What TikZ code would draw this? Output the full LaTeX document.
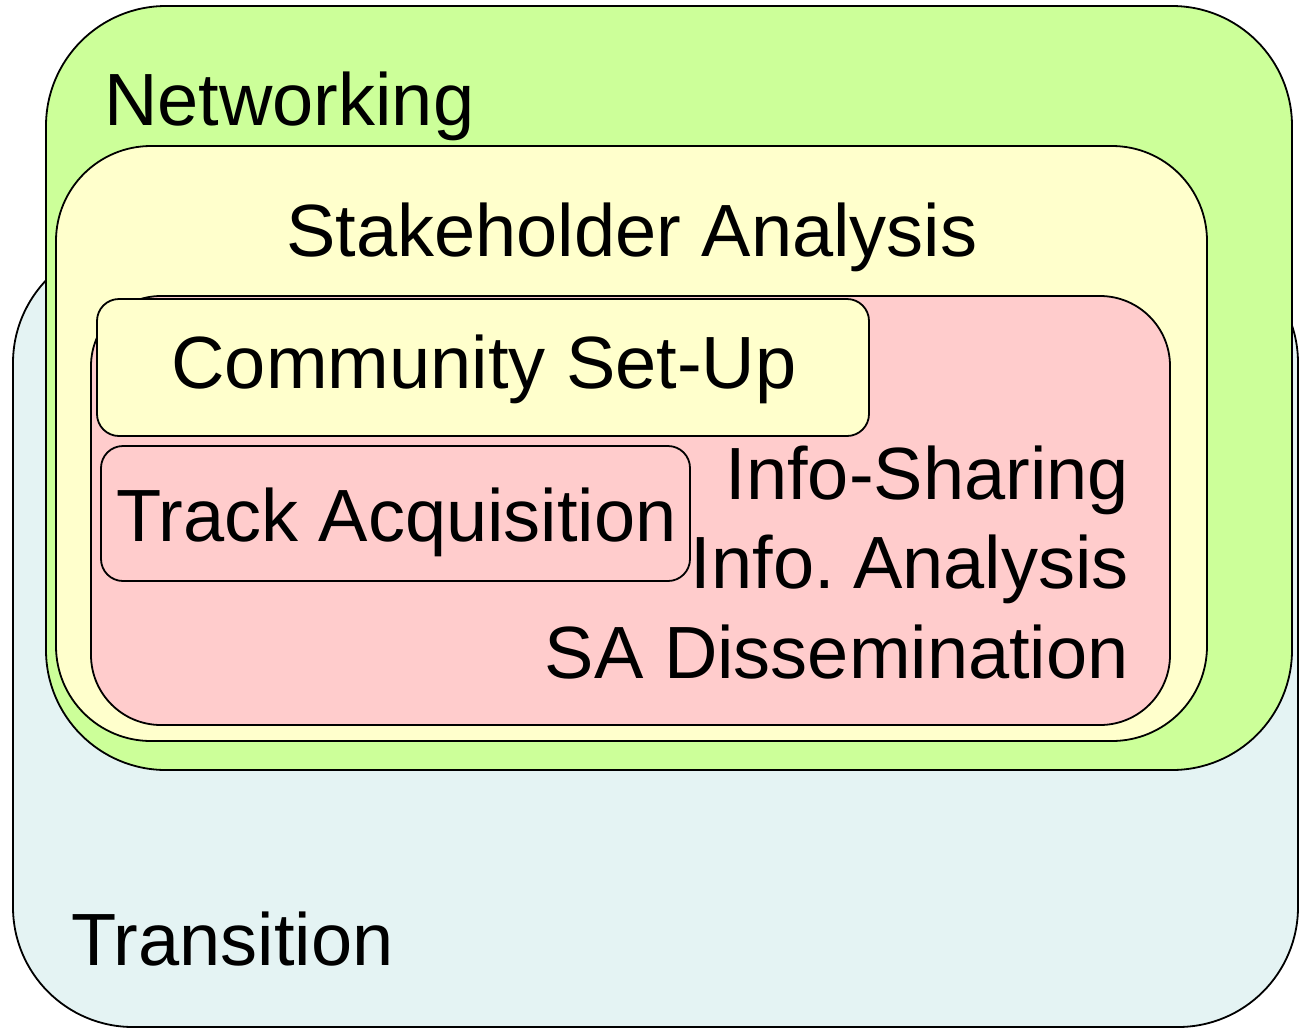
\documentclass[tikz,border=0pt]{standalone}
\usepackage{fontspec}
\setmainfont{Liberation Sans}
\definecolor{cblue}{HTML}{E4F3F3}
\definecolor{cgreen}{HTML}{CCFF99}
\definecolor{cyellow}{HTML}{FFFFCC}
\definecolor{cpink}{HTML}{FFCCCC}
\begin{document}
\begin{tikzpicture}[x=1pt,y=-1pt,
  box/.style={draw=black, line width=1.8pt, rectangle, inner sep=0pt},
  lbl/.style={inner sep=0pt, font=\fontsize{74}{89}\selectfont}]
\useasboundingbox (0,0) rectangle (1301,1029);
\node[box, fill=cblue, rounded corners=120pt, minimum width=1285pt, minimum height=784pt] (trans) at (655.5,635) {};
\node[box, fill=cgreen, rounded corners=120pt, minimum width=1246pt, minimum height=764pt] (net) at (669,388) {};
\node[box, fill=cyellow, rounded corners=95pt, minimum width=1151pt, minimum height=595pt] (stake) at (631.5,443.5) {};
\node[box, fill=cpink, rounded corners=70pt, minimum width=1079pt, minimum height=429pt] (info) at (630.5,510.5) {};
\node[box, fill=cyellow, rounded corners=22pt, minimum width=772pt, minimum height=137pt] (comm) at (483,367.5) {};
\node[box, fill=cpink, rounded corners=22pt, minimum width=589pt, minimum height=135pt] (track) at (395.5,513.5) {};
\node[lbl, anchor=base west] (tnet) at (104,125) {Networking};
\node[lbl, anchor=base] (tstake) at (632,256) {Stakeholder Analysis};
\node[lbl, anchor=base] (tcomm) at (484,388) {Community Set-Up};
\node[lbl, anchor=base] (ttrack) at (396.5,541) {Track Acquisition};
\node[lbl, anchor=base east] (tis1) at (1129,499) {Info-Sharing};
\node[lbl, anchor=base east] (tis2) at (1129,588) {Info.\hspace{-0.12em} Analysis};
\node[lbl, anchor=base east] (tis3) at (1129,678) {SA Dissemination};
\node[lbl, anchor=base west] (ttrans) at (71,965) {Transition};
\end{tikzpicture}
\end{document}
